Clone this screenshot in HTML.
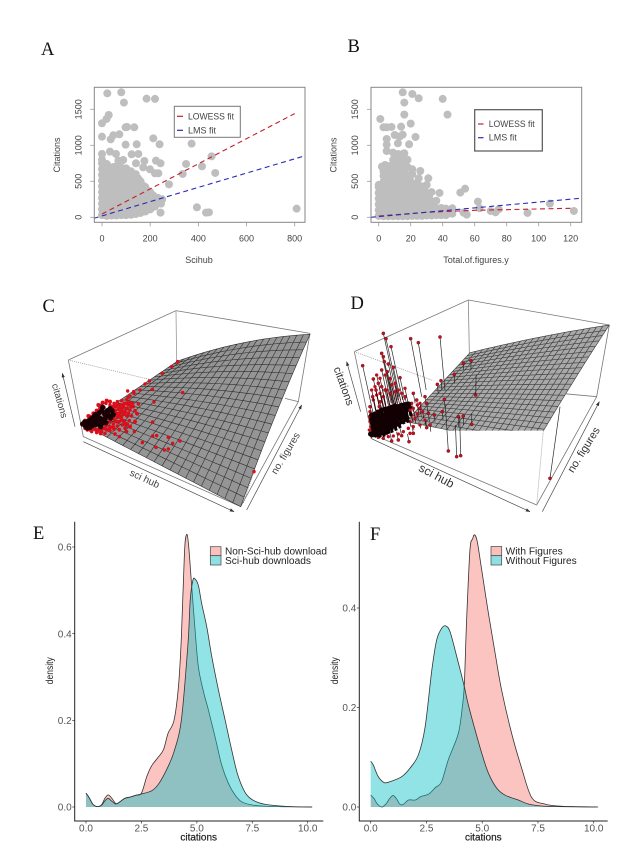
<!DOCTYPE html>
<html lang="en">
<head>
<meta charset="utf-8">
<title>Citations figure panels</title>
<style>
html,body{margin:0;padding:0;background:#fff}
#figure{display:block;width:643px;height:859px;font-family:"Liberation Sans",sans-serif;filter:blur(.3px)}
.letter{font-family:"Liberation Serif",serif;font-size:18.5px;fill:#111}
.rt{font-size:9px;fill:#444}
.kt{font-size:10px;fill:#555}
.kk{font-size:10px;fill:#222}
.kb{stroke:#222;stroke-width:.2px}
</style>
</head>
<body>
<svg id="figure" xmlns="http://www.w3.org/2000/svg" width="643" height="859" viewBox="0 0 643 859">
<defs>
<marker id="arr" viewBox="0 0 10 10" refX="9" refY="5" markerWidth="7" markerHeight="7" orient="auto"><path d="M0,1.5 L10,5 L0,8.5 Z" fill="#333"/></marker>
<clipPath id="clip-a"><rect x="94.3" y="87.3" width="210.7" height="135"/></clipPath>
<clipPath id="clip-b"><rect x="371" y="87.3" width="210.7" height="135"/></clipPath>
<clipPath id="clip-d"><rect x="0" y="0" width="870" height="422"/></clipPath>
</defs>
<rect width="643" height="859" fill="#fff"/>

<text class="letter" x="41" y="55">A</text>
<text class="letter" x="347.5" y="52">B</text>
<text class="letter" x="42.5" y="312">C</text>
<text class="letter" x="350.5" y="309">D</text>
<text class="letter" x="33" y="539">E</text>
<text class="letter" x="370" y="540">F</text>

<g id="panel-a">
  <g id="a-points" clip-path="url(#clip-a)"></g>
  <g id="a-lines" clip-path="url(#clip-a)"></g>
  <rect x="94.3" y="87.3" width="210.7" height="135" fill="none" stroke="#858585" stroke-width="1"/>
  <g id="a-axes"></g>
  <text class="rt" transform="translate(60,155) rotate(-90)" text-anchor="middle">Citations</text>
  <text class="rt" x="199" y="263" text-anchor="middle">Scihub</text>
  <g>
    <rect x="174.3" y="106.3" width="66" height="31" fill="#fff" stroke="#777" stroke-width="1"/>
    <line x1="177" y1="116.3" x2="183" y2="116.3" stroke="#c0202e" stroke-width="1.2"/>
    <line x1="177" y1="130.3" x2="183" y2="130.3" stroke="#2a2ab8" stroke-width="1.2"/>
    <text class="rt" x="188" y="119.3" textLength="46" lengthAdjust="spacingAndGlyphs">LOWESS fit</text>
    <text class="rt" x="188" y="133.3">LMS fit</text>
  </g>
</g>

<g id="panel-b">
  <g id="b-points" clip-path="url(#clip-b)"></g>
  <g id="b-lines" clip-path="url(#clip-b)"></g>
  <rect x="371" y="87.3" width="210.7" height="135" fill="none" stroke="#858585" stroke-width="1"/>
  <g id="b-axes"></g>
  <text class="rt" transform="translate(336.5,155) rotate(-90)" text-anchor="middle">Citations</text>
  <text class="rt" x="476" y="263" text-anchor="middle">Total.of.figures.y</text>
  <g>
    <rect x="474.7" y="109.7" width="67.6" height="41.3" fill="#fff" stroke="#555" stroke-width="1.2"/>
    <line x1="478" y1="124" x2="483.5" y2="124" stroke="#c0202e" stroke-width="1.2"/>
    <line x1="478" y1="137.7" x2="483.5" y2="137.7" stroke="#2a2ab8" stroke-width="1.2"/>
    <text class="rt" x="488.7" y="127" textLength="46" lengthAdjust="spacingAndGlyphs">LOWESS fit</text>
    <text class="rt" x="488.7" y="140.7">LMS fit</text>
  </g>
</g>

<g id="panel-c" transform="translate(30,290) scale(.33333)">
  <g fill="none" stroke="#777" stroke-width="2.4">
    <path d="M115,210 L438,62 L840,130"/>
    <path d="M438,62 L440,215" stroke="#999"/>
    <path d="M115,210 L160,440"/>
    <path d="M840,130 L805,335 L765,325"/>
    <path d="M115,210 L375,272" stroke="#999" stroke-dasharray="3 3"/>
    <path d="M160,440 L632,650 L805,335"/>
  </g>
  <path id="c-mesh" fill="#959595" stroke="#2e2e2e" stroke-width="1.8" stroke-linejoin="round"/>
  <path d="M672,545 L640,640" fill="none" stroke="#555" stroke-width="1.5" stroke-dasharray="3 3"/>
  <g id="c-points"></g>
  <g fill="none" stroke="#444" stroke-width="2">
    <line x1="135" y1="410" x2="97" y2="250" marker-end="url(#arr)"/>
    <line x1="160" y1="455" x2="612" y2="665" marker-end="url(#arr)"/>
    <line x1="650" y1="660" x2="815" y2="345" marker-end="url(#arr)"/>
  </g>
  <text font-size="29" fill="#444" text-anchor="middle" transform="translate(80,335) rotate(74)">citations</text>
  <text font-size="30" fill="#444" text-anchor="middle" transform="translate(340,575) rotate(25)">sci hub</text>
  <text font-size="30" fill="#444" text-anchor="middle" transform="translate(775,495) rotate(-59)">no. figures</text>
</g>

<g id="panel-d" transform="translate(330,290) scale(.33333)">
  <g fill="none" stroke="#777" stroke-width="2.4">
    <path d="M73,185 L415,30 L838,105"/>
    <path d="M415,30 L418,190" stroke="#888"/>
    <path d="M73,185 L125,432"/>
    <path d="M838,105 L800,320 L690,310"/>
    <path d="M73,185 L310,272" stroke="#999" stroke-dasharray="3 3"/>
    <path d="M125,432 L620,645 L800,320"/>
    <path d="M640,422 L620,645" stroke="#999" stroke-dasharray="3 3"/>
  </g>
  <g clip-path="url(#clip-d)"><path id="d-mesh" fill="#a9a9a9" stroke="#3c3c3c" stroke-width="1.9" stroke-linejoin="round"/></g>
  <g id="d-points"></g>
  <g fill="none" stroke="#444" stroke-width="2">
    <line x1="92" y1="365" x2="50" y2="215" marker-end="url(#arr)"/>
    <line x1="122" y1="445" x2="600" y2="665" marker-end="url(#arr)"/>
    <line x1="637" y1="665" x2="808" y2="335" marker-end="url(#arr)"/>
  </g>
  <text font-size="33" fill="#333" text-anchor="middle" transform="translate(31,292) rotate(70)">citations</text>
  <text font-size="36" fill="#333" text-anchor="middle" transform="translate(314,568) rotate(28)">sci hub</text>
  <text font-size="33" fill="#333" text-anchor="middle" transform="translate(770,485) rotate(-58)">no. figures</text>
</g>

<g id="panel-e">
  <g id="e-curves"></g>
  <g id="e-axes"></g>
  <path d="M74.7,521.7 V821 H323.3" fill="none" stroke="#222" stroke-width="1"/>
  <text class="kt" transform="translate(53,670.7) rotate(-90)" text-anchor="middle" textLength="27" lengthAdjust="spacingAndGlyphs" style="fill:#222">density</text>
  <text class="kt kb" x="198.7" y="840.5" text-anchor="middle" style="fill:#222">citations</text>
  <g>
    <rect x="210.3" y="546.7" width="10.7" height="9" fill="#f9c0bc" stroke="#444" stroke-width=".7"/>
    <rect x="210.3" y="555.7" width="10.7" height="9.3" fill="#8fe0e3" stroke="#444" stroke-width=".7"/>
    <text class="kk" x="225" y="554.6" textLength="102" lengthAdjust="spacingAndGlyphs">Non-Sci-hub download</text>
    <text class="kk" x="225" y="564" textLength="86" lengthAdjust="spacingAndGlyphs">Sci-hub downloads</text>
  </g>
</g>

<g id="panel-f">
  <g id="f-curves"></g>
  <g id="f-axes"></g>
  <path d="M359.3,521.7 V821 H607.7" fill="none" stroke="#222" stroke-width="1"/>
  <text class="kt" transform="translate(338,670.7) rotate(-90)" text-anchor="middle" textLength="27" lengthAdjust="spacingAndGlyphs" style="fill:#222">density</text>
  <text class="kt kb" x="483.3" y="840.5" text-anchor="middle" style="fill:#222">citations</text>
  <g>
    <rect x="491" y="546.5" width="10.7" height="9.2" fill="#f9c0bc" stroke="#444" stroke-width=".7"/>
    <rect x="491" y="555.7" width="10.7" height="9.3" fill="#8fe0e3" stroke="#444" stroke-width=".7"/>
    <text class="kk" x="505.7" y="554.6" textLength="57" lengthAdjust="spacingAndGlyphs">With Figures</text>
    <text class="kk" x="505.7" y="564" textLength="71" lengthAdjust="spacingAndGlyphs">Without Figures</text>
  </g>
</g>
</svg>

<script>
/* ---------- Panel A data: sci-hub downloads vs citations ---------- */
const aSciHub = [22,80,91,185,220,28,19,0,98,104,134,0,36,47,72,213,98,144,239,372,33,58,0,123,151,88,68,176,224,243,141,455,349,415,470,335,278,394,432,444,243,808,220,234,199,171,
0,0,0,0,0,0,0,0,0,0,0,
20,20,20,20,20,20,20,20,20,20,
40,40,40,40,40,40,40,40,40,
60,60,60,60,60,60,60,60,60,
80,80,80,80,80,80,80,80,80,
100,100,100,100,100,100,100,100,100,
120,120,120,120,120,120,120,120,
140,140,140,140,140,140,140,
160,160,160,160,160,160,
180,180,180,180,
200,200,200,200,
220,220,220,
245,250,
10,10,10,10,10,10,10,10,10,
30,30,30,30,30,30,30,30,30,
50,50,50,50,50,50,50,50,50,
70,70,70,70,70,70,70,70,70,
90,90,90,90,90,90,90,90,
110,110,110,110,110,110,110,110,
130,130,130,130,130,130,130,
150,150,150,150,150,150,
170,170,170,170,170,
190,190,190,190,
210,210,210,
232,232];
const aCitations = [1722,1736,1593,1648,1644,1421,1366,1306,1250,1255,1250,1120,1083,1139,1153,1097,1009,1014,1014,1023,912,880,880,875,880,796,787,782,787,750,750,847,741,708,616,602,458,139,65,69,65,120,611,611,667,694,
30,110,190,270,350,430,510,590,670,750,800,
20,100,180,260,340,420,500,580,660,740,
25,105,185,265,345,425,505,585,665,
25,110,190,270,350,430,510,590,670,
30,110,190,270,350,430,510,600,690,
30,115,195,275,355,435,515,600,680,
35,120,200,280,360,450,540,640,
45,130,220,310,400,500,600,
60,150,240,330,420,500,
80,190,300,420,
110,180,260,350,
150,220,280,
190,250,
70,150,230,310,390,470,550,630,710,
60,140,220,300,380,460,540,620,700,
65,145,225,305,385,465,545,625,700,
70,150,230,310,390,470,550,630,700,
70,150,230,310,390,470,555,640,
75,155,235,315,395,475,555,640,
80,165,250,330,420,500,590,
95,180,270,360,450,540,
120,200,280,370,440,
140,220,290,370,
140,220,310,
220,270];
const aXTicks = [0,200,400,600,800];
const aYTicks = [0,500,1000,1500];
const aLowessX = [0,800];
const aLowessY = [46,1440];
const aLmsX = [-35,838];
const aLmsY = [-15,850];

/* ---------- Panel B data: number of figures vs citations ---------- */
const bFigures = [15,21,16,25,40,43,16,1,20,3,5,8,14,10,15,23,13,5,12,5,19,5,9,16,2,4,21,26,25,31,21,38,51,54,62,63,107,122,93,55,53,70,73,75,44,46,41,
0,0,0,0,0,0,0,
3,3,3,3,3,3,3,3,3,
6,6,6,6,6,6,6,6,6,6,
9,9,9,9,9,9,9,9,9,9,9,
12,12,12,12,12,12,12,12,12,12,12,12,
15,15,15,15,15,15,15,15,15,15,15,15,
18,18,18,18,18,18,18,18,18,18,
21,21,21,21,21,21,21,
24,24,24,24,24,24,
27,27,27,27,27,
30,30,30,30,30,
33,33,33,33,
36,36,36,
39,39,39,
42,42,42,
46,46,
1.5,1.5,1.5,1.5,1.5,
4.5,4.5,4.5,4.5,4.5,4.5,4.5,
7.5,7.5,7.5,7.5,7.5,7.5,7.5,7.5,
10.5,10.5,10.5,10.5,10.5,10.5,10.5,10.5,10.5,
13.5,13.5,13.5,13.5,13.5,13.5,13.5,13.5,13.5,13.5,
16.5,16.5,16.5,16.5,16.5,16.5,16.5,16.5,16.5,
19.5,19.5,19.5,19.5,19.5,19.5,
22.5,22.5,22.5,22.5,22.5,
25.5,25.5,25.5,25.5,
28.5,28.5,28.5,28.5,
31.5,31.5,31.5,
34.5,34.5];
const bCitations = [1736,1713,1593,1653,1644,1426,1426,1366,1301,1250,1250,1255,1259,1143,1148,1116,1120,1088,1028,1009,1014,921,898,889,704,727,667,643,542,542,458,338,343,398,218,125,190,88,60,37,65,88,69,111,55,125,102,
20,100,180,260,340,420,450,
15,95,175,255,335,415,495,575,640,
15,95,175,255,335,415,495,575,655,710,
15,95,175,255,335,415,495,575,655,735,800,
15,95,175,255,335,415,495,575,655,735,815,880,
15,95,175,255,335,415,495,575,655,735,815,880,
15,95,175,255,335,415,495,575,700,800,
20,100,180,260,340,440,600,
20,100,180,260,370,480,
20,100,180,300,430,
25,110,200,320,450,
25,110,220,350,
30,120,230,
30,80,130,
30,90,120,
50,100,
55,135,215,295,375,
55,135,215,295,375,455,535,
55,135,215,295,375,455,535,615,
55,135,215,295,375,455,535,615,695,
55,135,215,295,375,455,535,615,695,775,
55,135,215,295,375,455,535,615,695,
60,140,220,300,380,520,
60,140,220,300,400,
60,140,230,330,
60,150,250,380,
70,160,280,
70,170];
const bXTicks = [0,20,40,60,80,100,120];
const bYTicks = [0,500,1000,1500];
const bLowessX = [0,30,60,120];
const bLowessY = [18,70,97,125];
const bLmsX = [-5,126];
const bLmsY = [0,264];

/* ---------- Panel C data: projected view coordinates ---------- */
const cViewX = [443,425,397,358,345,311,293,367,458,372,325,310,320,368,290,415,368,380,450,428,337,378,415,403,672,313,290,268,255,
215,228,222,240,252,262,275,290,300,312,295,283,270,258,248,265,280,296,308,255,270,285,300,315,262,275,290,305,322,255,268,282,298,250,262,277,292,240,252,268,285,230,215,200,185,172,165,225,240,255,268,330];
const cViewY = [215,230,250,273,282,305,303,298,308,336,342,350,370,396,405,442,438,437,453,460,458,472,477,480,545,425,425,420,432,
345,340,352,345,340,335,332,328,318,310,322,340,345,350,358,358,352,345,340,370,368,365,360,362,382,380,378,378,372,392,395,392,392,402,408,405,402,410,418,418,415,420,425,428,425,420,415,430,422,432,440,300];
const cCloudX = [180,190,200,210,205,218,230,240,250,262,270,255,262,250,240,228,215,205,195,182,175,165,280,275,268,282,275,290,300,290,260,250,238,225,212,295,305,285,300,315];
const cCloudY = [380,370,362,355,345,338,332,335,350,345,355,362,372,385,395,405,415,420,418,420,378,392,345,362,378,372,390,355,338,340,395,412,415,415,430,370,350,400,410,395];
const cCoreX = [158,164,170,176,182,170,178,186,194,202,184,192,200,208,216,196,204,212,220,228,236,208,216,224,232,240,246,218,226,234,242,250,180,188,196,204,212,172,166];
const cCoreY = [402,396,404,392,398,410,404,408,392,398,386,380,388,394,400,374,380,386,392,398,376,368,362,372,362,356,362,352,384,372,384,374,412,400,404,402,410,414,408];

/* ---------- Panel D data: projected view coordinates ---------- */
const dViewX = [160,168,183,155,160,163,175,190,98,130,155,172,210,145,155,165,185,242,265,330,225,250,355,380,392,660,400,385,425,437,373,400,423,322,333,343,337,313,295,290,300,285,260,270,240,237,205,185,215,250,290,128,138,150,148,120];
const dViewY = [130,146,170,190,200,215,222,232,227,267,240,245,263,280,290,300,285,146,158,141,320,310,483,500,497,565,378,380,403,315,253,220,212,283,272,328,365,375,370,340,405,320,330,355,360,455,450,453,437,430,413,320,300,335,350,350];
const dFootY = [330,320,330,340,340,350,340,330,380,370,350,350,330,380,385,390,350,320,300,300,350,340,345,405,380,350,405,410,370,255,280,240,240,310,300,350,390,395,395,365,425,345,355,380,385,432,425,425,412,405,390,390,370,395,400,400];
const dFringeX = [130,140,150,160,170,180,195,205,215,225,120,118,120,122,118,145,160,175,190,205,220,235,150,170,130,245,250,245,255,240,262,270,278,262,285,270,250,240,140,165,180,195,150,125,135];
const dFringeY = [330,315,310,320,300,310,305,300,310,295,365,380,395,410,420,442,445,440,438,432,425,415,435,430,437,340,355,375,385,395,345,340,365,372,390,405,410,430,255,255,265,280,265,300,290];
const dFringeFoot = [370,365,360,360,350,350,345,340,345,335,395,410,420,430,435,445,448,445,442,436,430,420,440,436,440,365,380,395,400,410,370,360,385,390,405,415,420,435,350,340,345,345,345,365,360];
const dCoreX = [125,135,145,155,165,175,185,195,205,215,225,235,125,135,145,155,165,175,185,195,205,215,225,238,128,138,148,158,168,178,188,198,208,218,228,130,140,150,160,170,180,190,200,210,220,132,142,152,162,172,182,192,200,122,134,146,158,170,182,194,206,218,230];
const dCoreY = [375,372,366,360,358,356,352,348,350,346,344,342,388,386,382,378,374,370,366,362,360,356,354,352,400,398,394,390,386,382,376,372,368,366,362,412,410,406,402,398,392,386,382,378,374,424,420,416,412,406,400,396,392,432,430,428,424,418,412,408,402,392,384];
const dCoreLen = [24,30,36,30,24,36,28,22,26,30,24,20,30,24,36,30,28,24,34,26,22,30,24,26,28,30,36,24,30,28,24,22,30,26,22,24,28,30,26,24,22,28,26,24,22,16,20,18,22,24,20,18,16,10,12,14,16,14,16,14,12,10,14];

/* ---------- Panel E data ---------- */
const eNonSciX = [0,.15,.3,.5,.7,.85,1,1.15,1.35,1.5,1.75,2,2.25,2.5,2.74,2.96,3.26,3.5,3.7,3.97,4.17,4.3,4.44,4.53,4.62,4.77,4.92,5.07,5.3,5.52,5.82,6.12,6.42,6.72,7.02,7.47,8,9,10.2];
const eNonSciY = [.032,.021,.007,.001,.005,.02,.028,.021,.008,.011,.02,.023,.027,.032,.07,.095,.115,.133,.17,.2,.278,.39,.585,.628,.608,.508,.408,.323,.266,.224,.162,.097,.055,.028,.012,.005,.002,.0005,0];
const eSciX = [0,.15,.3,.5,.7,.85,1,1.15,1.35,1.5,1.75,2,2.25,2.5,2.98,3.3,3.7,3.99,4.3,4.6,4.7,4.82,4.92,5.07,5.22,5.45,5.67,5.97,6.27,6.57,6.87,7.25,7.78,8.4,9.3,10.2];
const eSciY = [.032,.021,.007,.001,.004,.014,.02,.014,.007,.011,.02,.023,.027,.03,.038,.055,.093,.131,.2,.377,.477,.523,.526,.511,.469,.415,.348,.271,.202,.132,.07,.028,.01,.004,.0008,0];
const eXTicks = [0,2.5,5,7.5,10];
const eYTicks = [0,.2,.4,.6];

/* ---------- Panel F data ---------- */
const fWithX = [0,.15,.3,.5,.7,.85,1,1.15,1.3,1.45,1.7,2,2.25,2.6,2.9,3.18,3.48,3.93,4.11,4.2,4.3,4.45,4.57,4.66,4.78,4.98,5.28,5.58,5.87,6.32,6.77,7.22,7.8,8.4,9.2,10.2];
const fWithY = [.024,.017,.006,0,.007,.017,.023,.017,.006,.005,.014,.014,.021,.026,.039,.051,.095,.148,.202,.248,.375,.516,.539,.547,.533,.476,.389,.309,.235,.148,.078,.019,.006,.002,.0007,0];
const fWithoutX = [0,.12,.34,.61,.87,1.39,1.76,2.14,2.44,2.74,2.96,3.18,3.36,3.56,3.86,4.16,4.38,4.68,4.98,5.28,5.65,6.02,6.62,7.07,7.67,8.4,10.13];
const fWithoutY = [.092,.084,.061,.049,.051,.061,.078,.105,.161,.275,.336,.359,.364,.352,.302,.249,.205,.155,.108,.068,.038,.024,.014,.006,.002,.0007,0];
const fXTicks = [0,2.5,5,7.5,10];
const fYTicks = [0,.2,.4];

/* ---------- helpers ---------- */
const NS = 'http://www.w3.org/2000/svg';
function make(tag, attrs, parent){
  const n = document.createElementNS(NS, tag);
  for (const k in attrs) n.setAttribute(k, attrs[k]);
  parent.appendChild(n);
  return n;
}
function linear(d0, d1, r0, r1){ return v => r0 + (v - d0) * (r1 - r0) / (d1 - d0); }
function fmtD(v){ return v.toFixed(1); }

/* ---------- base-R scatter panels ---------- */
function drawScatter(id, xs, ys, sx, sy){
  const g = document.getElementById(id);
  xs.forEach((x, i) => {
    const el = make('circle', {cx: sx(x), cy: sy(ys[i]), r: 4, fill: '#bebebe'}, g);
    
    
  });
}
function drawFit(id, xs, ys, sx, sy, color, name){
  const g = document.getElementById(id);
  const d = xs.map((x, i) => (i ? 'L' : 'M') + sx(x).toFixed(1) + ',' + sy(ys[i]).toFixed(1)).join(' ');
  const el = make('path', {d: d, fill: 'none', stroke: color, 'stroke-width': 1.1, 'stroke-dasharray': '5 3.5'}, g);
  
  
}
function drawRAxes(id, xTicks, yTicks, sx, sy, bottom, left, yLabelX){
  const g = document.getElementById(id);
  xTicks.forEach(t => {
    const tick = make('line', {x1: sx(t), x2: sx(t), y1: bottom, y2: bottom + 4, stroke: '#999', 'stroke-width': .8}, g);
    
    
    const lab = make('text', {x: sx(t), y: bottom + 19, 'text-anchor': 'middle', class: 'rt'}, g);
    
    
    lab.textContent = t;
  });
  yTicks.forEach(t => {
    const tick = make('line', {x1: left - 4, x2: left, y1: sy(t), y2: sy(t), stroke: '#999', 'stroke-width': .8}, g);
    
    
    const lab = make('text', {transform: 'translate(' + yLabelX + ',' + sy(t) + ') rotate(-90)', 'text-anchor': 'middle', class: 'rt'}, g);
    
    
    lab.textContent = t;
  });
}
const aSx = linear(0, 800, 102, 294.7), aSy = linear(0, 1500, 217.3, 109.3);
const bSx = linear(0, 120, 378.7, 570.7), bSy = linear(0, 1500, 217.3, 109.3);
drawScatter('a-points', aSciHub, aCitations, aSx, aSy);
drawFit('a-lines', aLowessX, aLowessY, aSx, aSy, '#c0202e', 'lowess-fit-line-a');
drawFit('a-lines', aLmsX, aLmsY, aSx, aSy, '#2a2ab8', 'lms-fit-line-a');
drawRAxes('a-axes', aXTicks, aYTicks, aSx, aSy, 222.3, 94.3, 81.5);
drawScatter('b-points', bFigures, bCitations, bSx, bSy);
drawFit('b-lines', bLowessX, bLowessY, bSx, bSy, '#c0202e', 'lowess-fit-line-b');
drawFit('b-lines', bLmsX, bLmsY, bSx, bSy, '#2a2ab8', 'lms-fit-line-b');
drawRAxes('b-axes', bXTicks, bYTicks, bSx, bSy, 222.3, 371, 358);

/* ---------- surface panels: bilinear patch with a small curvature term ---------- */
function meshPath(q, n, bulge){
  const [L, B, R, T] = q;
  const pt = (u, v) => {
    const x = (1 - u) * (1 - v) * L[0] + u * (1 - v) * B[0] + u * v * R[0] + (1 - u) * v * T[0];
    const y = (1 - u) * (1 - v) * L[1] + u * (1 - v) * B[1] + u * v * R[1] + (1 - u) * v * T[1];
    return [x, y - bulge * (4 * u * (1 - u) * v + 4 * v * (1 - v) * u)];
  };
  let d = '';
  for (let i = 0; i < n; i++) for (let j = 0; j < n; j++) {
    const cs = [pt(i / n, j / n), pt((i + 1) / n, j / n), pt((i + 1) / n, (j + 1) / n), pt(i / n, (j + 1) / n)];
    d += 'M' + cs.map(c => c[0].toFixed(1) + ',' + c[1].toFixed(1)).join('L') + 'Z';
  }
  return d;
}
document.getElementById('c-mesh').setAttribute('d', meshPath([[160,405],[632,650],[840,133],[443,213]], 20, 15));
document.getElementById('d-mesh').setAttribute('d', meshPath([[228,395],[612,470],[838,105],[420,188]], 22, 5));

const cG = document.getElementById('c-points');
cViewX.forEach((x, i) => {
  const el = make('circle', {cx: x, cy: cViewY[i], r: 5.2, fill: '#d8101c'}, cG);
  
  
});
cCloudX.forEach((x, i) => {
  const el = make('circle', {cx: x, cy: cCloudY[i], r: 6, fill: '#e00c18'}, cG);
  
  
});
cCoreX.forEach((x, i) => {
  const el = make('circle', {cx: x, cy: cCoreY[i], r: 8, fill: '#1a0002'}, cG);
  
  
});

function tilt(x){ return Math.max(-.14, Math.min(.22, (415 - x) * .0011)); }
const dG = document.getElementById('d-points');
dViewX.forEach((x, i) => {
  const line = make('line', {x1: x, y1: dViewY[i], x2: x + tilt(x) * (dFootY[i] - dViewY[i]), y2: dFootY[i], stroke: '#222', 'stroke-width': 2}, dG);
  
  
});
dFringeX.forEach((x, i) => {
  const line = make('line', {x1: x, y1: dFringeY[i], x2: x + tilt(x) * (dFringeFoot[i] - dFringeY[i]), y2: dFringeFoot[i], stroke: '#3a0005', 'stroke-width': 2}, dG);
  
  
  const el = make('circle', {cx: x, cy: dFringeY[i], r: 5, fill: '#b8101c'}, dG);
  
  
});
dCoreX.forEach((x, i) => {
  const line = make('line', {x1: x, y1: dCoreY[i], x2: x + 5, y2: dCoreY[i] + dCoreLen[i], stroke: '#080000', 'stroke-width': 9}, dG);
  
  
  const el = make('circle', {cx: x, cy: dCoreY[i], r: 8, fill: '#120002'}, dG);
  
  
});
dViewX.forEach((x, i) => {
  const el = make('circle', {cx: x, cy: dViewY[i], r: 4.8, fill: '#c0111f', stroke: '#50060c', 'stroke-width': 1}, dG);
  
  
});

/* ---------- ggplot density panels ---------- */
function smoothPath(pts){
  let d = 'M' + pts[0][0].toFixed(2) + ',' + pts[0][1].toFixed(2);
  const k = 1 / 6;
  for (let i = 0; i < pts.length - 1; i++) {
    const p0 = pts[Math.max(i - 1, 0)], p1 = pts[i], p2 = pts[i + 1], p3 = pts[Math.min(i + 2, pts.length - 1)];
    d += 'C' + (p1[0] + (p2[0] - p0[0]) * k).toFixed(2) + ',' + (p1[1] + (p2[1] - p0[1]) * k).toFixed(2) + ' ' +
         (p2[0] - (p3[0] - p1[0]) * k).toFixed(2) + ',' + (p2[1] - (p3[1] - p1[1]) * k).toFixed(2) + ' ' +
         p2[0].toFixed(2) + ',' + p2[1].toFixed(2);
  }
  return d;
}
function drawDensity(id, xs, ys, sx, sy, color, name){
  const g = document.getElementById(id);
  const pts = xs.map((x, i) => [sx(x), sy(ys[i])]);
  const line = smoothPath(pts);
  const fill = make('path', {d: line + 'L' + sx(xs[xs.length - 1]).toFixed(2) + ',' + sy(0).toFixed(2) + 'L' + sx(xs[0]).toFixed(2) + ',' + sy(0).toFixed(2) + 'Z', fill: color, 'fill-opacity': .43}, g);
  
  
  const stroke = make('path', {d: line, fill: 'none', stroke: '#333', 'stroke-width': .8}, g);
  
  
}
function drawGgAxes(id, xTicks, yTicks, sx, sy, bottom, left){
  const g = document.getElementById(id);
  xTicks.forEach(t => {
    const tick = make('line', {x1: sx(t), x2: sx(t), y1: bottom, y2: bottom + 2.5, stroke: '#333', 'stroke-width': .7}, g);
    
    
    const lab = make('text', {x: sx(t), y: bottom + 10.3, 'text-anchor': 'middle', class: 'kt'}, g);
    
    
    lab.textContent = fmtD(t);
  });
  yTicks.forEach(t => {
    const tick = make('line', {x1: left - 2.5, x2: left, y1: sy(t), y2: sy(t), stroke: '#333', 'stroke-width': .7}, g);
    
    
    const lab = make('text', {x: left - 3, y: sy(t) + 3.6, 'text-anchor': 'end', class: 'kt'}, g);
    
    
    lab.textContent = fmtD(t);
  });
}
const eSxF = linear(0, 10, 86, 307.7), eSyF = linear(0, .6, 807, 547);
const fSxF = linear(0, 10, 370.7, 593.7), fSyF = linear(0, .4, 807, 608);
drawDensity('e-curves', eNonSciX, eNonSciY, eSxF, eSyF, '#f8766d', 'non-sci-hub-density');
drawDensity('e-curves', eSciX, eSciY, eSxF, eSyF, '#00bfc4', 'sci-hub-density');
drawGgAxes('e-axes', eXTicks, eYTicks, eSxF, eSyF, 821, 74.7);
drawDensity('f-curves', fWithX, fWithY, fSxF, fSyF, '#f8766d', 'with-figures-density');
drawDensity('f-curves', fWithoutX, fWithoutY, fSxF, fSyF, '#00bfc4', 'without-figures-density');
drawGgAxes('f-axes', fXTicks, fYTicks, fSxF, fSyF, 821, 359.3);
</script>
</body>
</html>
